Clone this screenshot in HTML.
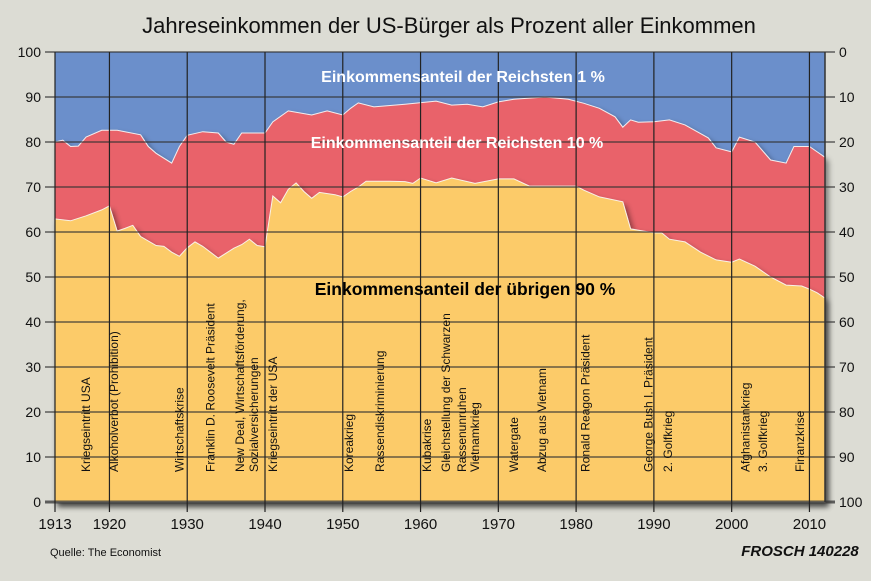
<!DOCTYPE html>
<html><head><meta charset="utf-8">
<style>
html,body{margin:0;padding:0;background:#dcdcd4;}
svg{display:block;font-family:"Liberation Sans",sans-serif;}
</style></head>
<body>
<svg id="chart" width="871" height="581" viewBox="0 0 871 581" xmlns="http://www.w3.org/2000/svg">
<defs>
<filter id="sh" x="-5%" y="-5%" width="115%" height="120%"><feDropShadow dx="3" dy="4" stdDeviation="3" flood-color="#000" flood-opacity="0.45"/></filter>
</defs>
<rect x="0" y="0" width="871" height="581" fill="#dcdcd4"/>
<text x="449" y="33" font-size="22" text-anchor="middle" fill="#111">Jahreseinkommen der US-Bürger als Prozent aller Einkommen</text>
<g id="plot"></g>
<text x="50" y="556" font-size="11" fill="#111" font-family="Liberation Sans Narrow, Liberation Sans, sans-serif">Quelle: The Economist</text>
<text x="800" y="556" font-size="15" font-weight="bold" font-style="italic" text-anchor="middle" fill="#111">FROSCH 140228</text>
</svg>
<script>
const yearsBottom=[1913,1915,1917,1919,1920,1921,1922,1923,1924,1926,1927,1928,1929,1930,1931,1932,1934,1936,1937,1938,1939,1940,1941,1942,1943,1944,1945,1946,1947,1949,1950,1951,1952,1953,1956,1958,1959,1960,1962,1964,1967,1970,1972,1974,1980,1981,1983,1986,1987,1990,1991,1992,1994,1996,1998,2000,2001,2003,2005,2007,2009,2010,2011,2012];
const bottom90=[62.9,62.5,63.6,64.9,65.8,60.2,60.8,61.5,59,57,56.8,55.5,54.6,56.5,57.8,56.8,54.2,56.4,57.2,58.4,57,56.7,68,66.5,69.5,70.9,69,67.5,68.8,68.3,67.8,69,70,71.3,71.3,71.2,70.8,72,70.9,72,70.8,71.8,71.8,70.2,70.2,69.3,67.8,66.7,60.7,59.8,59.8,58.4,57.8,55.5,53.8,53.3,54,52.4,50,48.2,48,47.3,46.5,45.3];
const yearsTop=[1913,1914,1915,1916,1917,1919,1921,1924,1925,1926,1928,1929,1930,1932,1934,1935,1936,1937,1940,1941,1943,1946,1948,1950,1951,1952,1954,1958,1962,1964,1966,1968,1970,1972,1976,1979,1981,1983,1985,1986,1987,1988,1990,1992,1994,1997,1998,2000,2001,2003,2005,2007,2008,2010,2011,2012];
const topLine=[80,80.4,79,79.1,81.1,82.6,82.6,81.6,79,77.5,75.3,79,81.5,82.3,82,80,79.5,82,82,84.5,86.9,86,86.9,86,87.5,88.7,87.8,88.4,89.1,88.2,88.4,87.8,88.9,89.5,90,89.5,88.6,87.5,85.6,83.3,84.9,84.4,84.5,84.9,83.8,80.9,78.7,77.8,81.1,80,76,75.3,79,79,77.8,76.6];
const yTicks=[0,10,20,30,40,50,60,70,80,90,100];
const xTickYears=[1913,1920,1930,1940,1950,1960,1970,1980,1990,2000,2010];
const eventYears=[1917,1920.6,1929,1933,1936.8,1938.6,1941,1950.8,1954.8,1960.8,1963.3,1965.3,1967,1972,1975.6,1981.2,1989.3,1991.8,2001.8,2004,2008.8];
const eventLabels=["Kriegseintritt USA","Alkoholverbot (Prohibition)","Wirtschaftskrise","Franklin D. Roosevelt Präsident","New Deal, Wirtschaftsförderung,","Sozialversicherungen","Kriegseintritt der USA","Koreakrieg","Rassendiskriminierung","Kubakrise","Gleichstellung der Schwarzen","Rassenunruhen","Vietnamkrieg","Watergate","Abzug aus Vietnam","Ronald Reagon Präsident","George Bush I. Präsident","2. Golfkrieg","Afghanistankrieg","3. Golfkrieg","Finanzkrise"];

const X0=55,X1=825,Y0=502,Y1=52,yrMin=1913,yrMax=2012;
const xs=y=>X0+(y-yrMin)*(X1-X0)/(yrMax-yrMin);
const ys=v=>Y0-(v/100)*(Y0-Y1);
const NS="http://www.w3.org/2000/svg";
const plot=document.getElementById('plot');
function mk(tag,attrs,parent){const e=document.createElementNS(NS,tag);for(const k in attrs)e.setAttribute(k,attrs[k]);(parent||plot).appendChild(e);return e;}

const blue=mk('rect',{x:X0,y:Y1,width:X1-X0,height:Y0-Y1,fill:'#6b8fcb'});


let d='M'+xs(yearsTop[0])+','+ys(0);
yearsTop.forEach((y,i)=>{d+=' L'+xs(y).toFixed(1)+','+ys(topLine[i]).toFixed(1);});
d+=' L'+xs(yearsTop[yearsTop.length-1])+','+ys(0)+' Z';
const red=mk('path',{d:d,fill:'#e9626b',stroke:'#f4eeee','stroke-width':1,filter:'url(#sh)'});


d='M'+xs(yearsBottom[0])+','+ys(0);
yearsBottom.forEach((y,i)=>{d+=' L'+xs(y).toFixed(1)+','+ys(bottom90[i]).toFixed(1);});
d+=' L'+xs(yearsBottom[yearsBottom.length-1])+','+ys(0)+' Z';
const yel=mk('path',{d:d,fill:'#fccb69',stroke:'#f8f2e8','stroke-width':1,filter:'url(#sh)'});



yTicks.forEach(v=>{
  const l=mk('line',{x1:X0-10,x2:X1+10,y1:ys(v),y2:ys(v),stroke:'#333',opacity:0.75,'stroke-width':v===0?3:1.5});
  
  
  const t=mk('text',{x:X0-14,y:ys(v)+5,'font-size':14,'text-anchor':'end',fill:'#111','font-family':'Liberation Sans Narrow, Liberation Sans, sans-serif'});
  t.textContent=v;
  
  
  const t2=mk('text',{x:X1+14,y:ys(v)+5,'font-size':14,fill:'#111','font-family':'Liberation Sans Narrow, Liberation Sans, sans-serif'});
  t2.textContent=100-v;
  
  
});
xTickYears.forEach(y=>{
  const l=mk('line',{x1:xs(y),x2:xs(y),y1:Y1,y2:Y0+10,stroke:'#222','stroke-width':1.2});
  
  
  const t=mk('text',{x:xs(y),y:Y0+27,'font-size':15,'text-anchor':'middle',fill:'#111','font-family':'Liberation Sans Narrow, Liberation Sans, sans-serif'});
  t.textContent=y;
  
  
});
const ra=mk('line',{x1:X1,x2:X1,y1:Y1,y2:Y0,stroke:'#333','stroke-width':1.5});



eventYears.forEach((y,i)=>{
  const x=xs(y)+4;
  const t=mk('text',{x:x,y:472,'font-size':12,fill:'#111',transform:'rotate(-90 '+x+' 472)'});
  t.textContent=eventLabels[i];
  
  
});

const a1=mk('text',{x:463,y:82,'font-size':16,'font-weight':'bold','text-anchor':'middle',fill:'#fff'});
a1.textContent='Einkommensanteil der Reichsten 1 %';


const a2=mk('text',{x:457,y:148,'font-size':16,'font-weight':'bold','text-anchor':'middle',fill:'#fff'});
a2.textContent='Einkommensanteil der Reichsten 10 %';


const a3=mk('text',{x:465,y:295,'font-size':17.5,'font-weight':'bold','text-anchor':'middle',fill:'#000'});
a3.textContent='Einkommensanteil der übrigen 90 %';


</script>
</body></html>
